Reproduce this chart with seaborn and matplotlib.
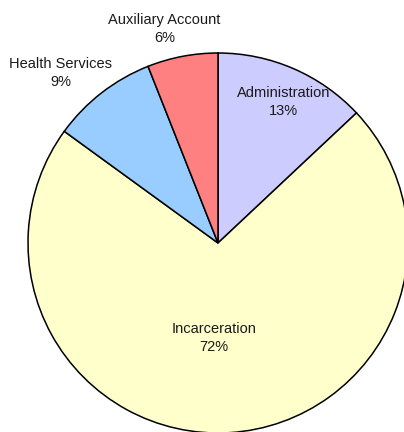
import numpy as np
import matplotlib
matplotlib.use("Agg")
import matplotlib.pyplot as plt
import seaborn as sns

# Budget share by program area
categories = ["Administration", "Incarceration", "Health Services", "Auxiliary Account"]
shares = [13, 72, 9, 6]
colors = ["#CCCCFF", "#FFFFCC", "#99CCFF", "#FF8080"]

# Label placement: distance from centre (in radii) and angular nudge (degrees)
label_radius = [0.82, 0.50, 1.22, 1.16]
label_nudge = [-1.5, -6.0, 4.9, 3.3]

sns.set_theme(style="white")
plt.rcParams["font.family"] = ["Liberation Sans", "DejaVu Sans"]

fig = plt.figure(figsize=(4.04, 4.32), dpi=100)
ax = fig.add_axes([0, 0, 1, 1])

wedges, _ = ax.pie(
    shares,
    colors=colors,
    startangle=90,
    counterclock=False,
    radius=1.0,
    center=(0, 0),
    wedgeprops=dict(edgecolor="black", linewidth=1.1),
    frame=False,
)

for w, name, val, r, nudge in zip(wedges, categories, shares, label_radius, label_nudge):
    mid = np.deg2rad((w.theta1 + w.theta2) / 2 + nudge)
    ax.text(r * np.cos(mid), r * np.sin(mid), f"{name}\n{val}%",
            ha="center", va="center", fontsize=10.5, color="#1a1a1a",
            linespacing=1.35)

# Centre at (218, 243) px with a 190 px radius
ax.set_xlim(-218 / 190, (404 - 218) / 190)
ax.set_ylim(-(432 - 243) / 190, 243 / 190)
ax.set_aspect("auto")
ax.axis("off")

fig.savefig("out.png", dpi=100, facecolor="white")
